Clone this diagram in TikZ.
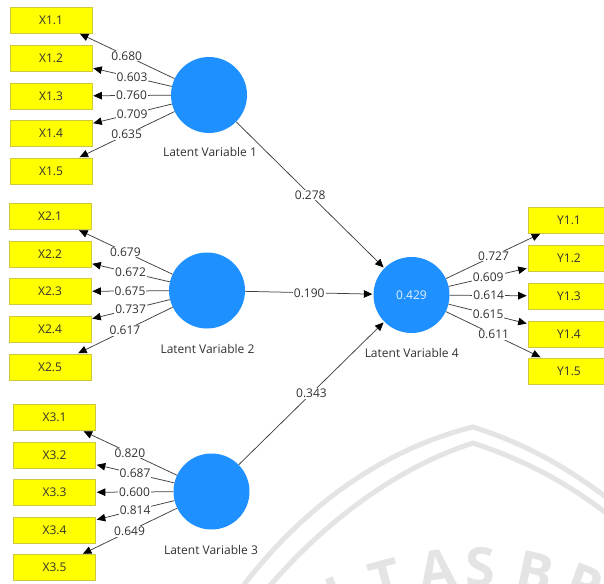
\documentclass[tikz,border=0pt]{standalone}
\usepackage{fontspec}
\setmainfont{Open Sans}
\usetikzlibrary{arrows.meta}
\definecolor{lvblue}{RGB}{30,144,255}
\definecolor{indyellow}{RGB}{255,255,0}
\definecolor{indedge}{RGB}{205,200,60}
\definecolor{txt}{RGB}{50,50,50}
\definecolor{wm}{RGB}{228,228,228}
\begin{document}
\begin{tikzpicture}[x=1pt,y=-1pt,
  ind/.style={draw=indedge, fill=indyellow, minimum width=82pt, minimum height=26pt, inner sep=0pt, font=\fontsize{12}{14}\selectfont, text=txt, line width=0.6pt},
  lv/.style={circle, fill=lvblue, minimum size=76pt, inner sep=0pt, font=\fontsize{12}{14}\selectfont, text=white!88!lvblue},
  lvlab/.style={font=\fontsize{12}{14}\selectfont, text=txt, inner sep=0pt},
  conn/.style={draw=black!75, line width=0.75pt, -{Triangle[length=8.5pt,width=7.5pt,color=black]}, shorten >=1pt},
  lab/.style={fill=white, inner sep=1pt, font=\fontsize{12}{14}\selectfont, text=txt},
  wmline/.style={draw=wm, line width=5pt},
  wmtext/.style={text=wm, font=\fontsize{54}{56}\selectfont\bfseries, inner sep=0pt},
]
\useasboundingbox (0,0) rectangle (604,583);
\clip (0,0) rectangle (604,583);
\fill[white] (0,0) rectangle (604,583);

% faint watermark
\draw[wmline] (240,590) .. controls (300,510) and (380,450) .. (473,427) .. controls (530,445) and (570,470) .. (610,500);
\draw[wmline] (262,595) .. controls (320,525) and (395,468) .. (473,443) .. controls (530,462) and (570,485) .. (610,516);
\node[wmtext, rotate=22]  (wmI) at (337,596) {I};
\node[wmtext, rotate=15]  (wmT) at (386,580) {T};
\node[wmtext, rotate=8]   (wmA) at (437,570) {A};
\node[wmtext]             (wmS) at (480,567) {S};
\node[wmtext, rotate=-12] (wmB) at (535,572) {B};
\node[wmtext, rotate=-20] (wmR) at (585,585) {R};

% latent variables
\node[lv] (lv1) at (209,95) {};
\node[lv] (lv2) at (207,290.5) {};
\node[lv] (lv3) at (211.5,491.5) {};
\node[lv] (lv4) at (411.5,295) {0.429};
\node[lvlab] (lab1) at (210,152) {Latent Variable 1};
\node[lvlab] (lab2) at (207.5,349) {Latent Variable 2};
\node[lvlab] (lab3) at (211,550) {Latent Variable 3};
\node[lvlab] (lab4) at (411.7,353) {Latent Variable 4};

% indicators block 1
\node[ind] (x11) at (51,20) {X1.1};
\node[ind] (x12) at (51,58.5) {X1.2};
\node[ind] (x13) at (51,96) {X1.3};
\node[ind] (x14) at (51,133.5) {X1.4};
\node[ind] (x15) at (51,171) {X1.5};
% block 2
\node[ind] (x21) at (50,216.5) {X2.1};
\node[ind] (x22) at (50,254) {X2.2};
\node[ind] (x23) at (50,291.5) {X2.3};
\node[ind] (x24) at (50,329) {X2.4};
\node[ind] (x25) at (50,367) {X2.5};
% block 3
\node[ind] (x31) at (54.5,417.5) {X3.1};
\node[ind] (x32) at (54.5,455) {X3.2};
\node[ind] (x33) at (54.5,492.5) {X3.3};
\node[ind] (x34) at (54.5,530) {X3.4};
\node[ind] (x35) at (54.5,567.5) {X3.5};
% block Y
\node[ind] (y11) at (569,220) {Y1.1};
\node[ind] (y12) at (569,258.5) {Y1.2};
\node[ind] (y13) at (569,296) {Y1.3};
\node[ind] (y14) at (569,334) {Y1.4};
\node[ind] (y15) at (569,371) {Y1.5};

% loadings
\draw[conn] (lv1) -- node[lab] {0.680} (x11);
\draw[conn] (lv1) -- node[lab] {0.603} (x12);
\draw[conn] (lv1) -- node[lab] {0.760} (x13);
\draw[conn] (lv1) -- node[lab] {0.709} (x14);
\draw[conn] (lv1) -- node[lab] {0.635} (x15);

\draw[conn] (lv2) -- node[lab] {0.679} (x21);
\draw[conn] (lv2) -- node[lab] {0.672} (x22);
\draw[conn] (lv2) -- node[lab] {0.675} (x23);
\draw[conn] (lv2) -- node[lab] {0.737} (x24);
\draw[conn] (lv2) -- node[lab] {0.617} (x25);

\draw[conn] (lv3) -- node[lab] {0.820} (x31);
\draw[conn] (lv3) -- node[lab] {0.687} (x32);
\draw[conn] (lv3) -- node[lab] {0.600} (x33);
\draw[conn] (lv3) -- node[lab] {0.814} (x34);
\draw[conn] (lv3) -- node[lab] {0.649} (x35);

\draw[conn] (lv4) -- node[lab] {0.727} (y11);
\draw[conn] (lv4) -- node[lab] {0.609} (y12);
\draw[conn] (lv4) -- node[lab] {0.614} (y13);
\draw[conn] (lv4) -- node[lab] {0.615} (y14);
\draw[conn] (lv4) -- node[lab] {0.611} (y15);

% structural paths
\draw[conn] (lv1) -- node[lab] {0.278} (lv4);
\draw[conn] (lv2) -- node[lab] {0.190} (lv4);
\draw[conn] (lv3) -- node[lab] {0.343} (lv4);
\end{tikzpicture}
\end{document}
